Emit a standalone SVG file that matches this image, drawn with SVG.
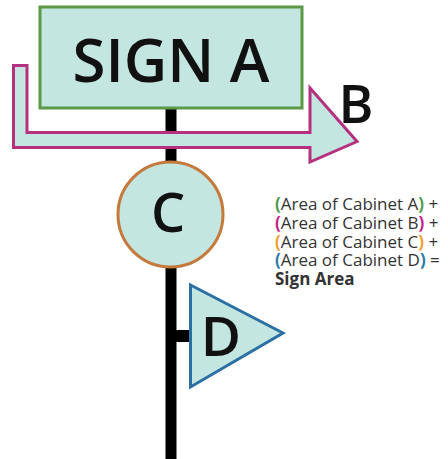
<svg xmlns="http://www.w3.org/2000/svg" width="448" height="459" viewBox="0 0 448 459">
<style>
.fill{fill:#c4e6e1}
.big{font-family:"Open Sans","Liberation Sans",sans-serif;font-weight:600;fill:#111}
.eq{font-family:"Open Sans","Liberation Sans",sans-serif;font-size:17px;fill:#333}
</style>
<rect width="448" height="459" fill="#fff"/>
<g id="connectors">
<rect x="165.5" y="109" width="11" height="350" fill="#000"/>
<rect x="176" y="330" width="15" height="12" fill="#000"/>
</g>
<g id="signA">
<rect x="40" y="7" width="262" height="101" class="fill" stroke="#5b9848" stroke-width="3"/>
<text x="171" y="82" text-anchor="middle" class="big" font-size="60">SIGN A</text>
</g>
<g id="signB">
<path d="M13.5 65.5 H27 V132.5 H310 V88 L357 141.5 L310 162 V147.5 H13.5 Z" class="fill" stroke="#b5317f" stroke-width="3" stroke-linejoin="miter"/>
<text x="356" y="123" text-anchor="middle" class="big" font-size="53">B</text>
</g>
<g id="signC">
<circle cx="170.5" cy="214.5" r="52.5" class="fill" stroke="#c47a3c" stroke-width="3"/>
<text x="168" y="232" text-anchor="middle" class="big" font-size="54">C</text>
</g>
<g id="signD">
<path d="M190.5 285 L283 333 L190.5 387 Z" class="fill" stroke="#2b6fa3" stroke-width="3" stroke-linejoin="miter"/>
<text x="221" y="356" text-anchor="middle" class="big" font-size="55">D</text>
</g>
<g id="formula">
<text class="eq" x="275" y="210"><tspan fill="#4f9a4a" font-weight="700">(</tspan>Area of Cabinet A<tspan fill="#4f9a4a" font-weight="700">)</tspan> +</text>
<text class="eq" x="275" y="228.8"><tspan fill="#c0228a" font-weight="700">(</tspan>Area of Cabinet B<tspan fill="#c0228a" font-weight="700">)</tspan> +</text>
<text class="eq" x="275" y="247.6"><tspan fill="#f0a030" font-weight="700">(</tspan>Area of Cabinet C<tspan fill="#f0a030" font-weight="700">)</tspan> +</text>
<text class="eq" x="275" y="266.4"><tspan fill="#2a7aa8" font-weight="700">(</tspan>Area of Cabinet D<tspan fill="#2a7aa8" font-weight="700">)</tspan> =</text>
<text class="eq" x="275" y="285.2" font-weight="700" fill="#111">Sign Area</text>
</g>
</svg>
